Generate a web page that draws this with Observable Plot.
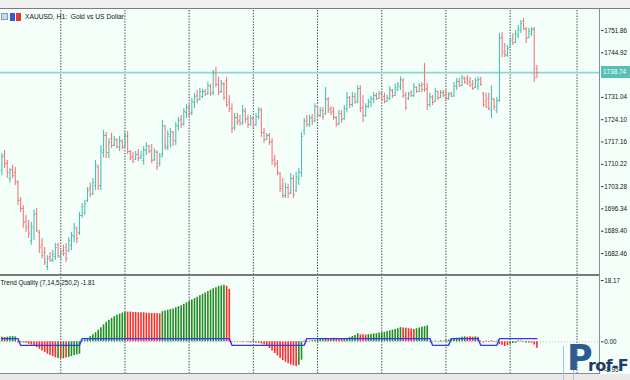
<!DOCTYPE html>
<html><head><meta charset="utf-8">
<script src="https://cdn.jsdelivr.net/npm/d3@7"></script>
<script src="https://cdn.jsdelivr.net/npm/@observablehq/plot@0.6"></script>
<style>
body{margin:0;background:#fff;}
#wrap{position:relative;width:630px;height:380px;overflow:hidden;background:#f5fffa;font-family:"Liberation Sans",Arial,sans-serif;color:#111;}
#wrap svg{position:absolute;left:0;}
.abs{position:absolute;}
</style></head><body><div id="wrap"></div>
<script>
const open = [1708.3,1713.0,1710.5,1705.8,1708.6,1707.7,1704.6,1699.0,1696.5,1692.4,
1690.9,1686.5,1690.3,1694.9,1689.0,1685.0,1682.8,1678.4,1681.5,1680.6,
1681.5,1685.3,1681.5,1683.4,1684.3,1683.4,1685.0,1687.8,1690.3,1689.0,
1694.3,1695.2,1699.0,1702.7,1701.1,1703.6,1709.2,1703.6,1713.9,1719.2,
1713.9,1718.2,1716.1,1717.9,1715.4,1717.3,1715.8,1718.9,1714.2,1712.6,
1711.7,1713.3,1712.3,1711.4,1714.5,1715.8,1714.5,1711.7,1713.9,1710.5,
1713.3,1722.1,1715.4,1718.9,1720.1,1717.6,1722.1,1724.2,1722.9,1726.3,
1728.2,1726.3,1729.5,1731.6,1730.4,1731.3,1732.9,1732.3,1734.4,1732.6,
1738.8,1735.1,1732.9,1735.1,1736.3,1729.5,1727.6,1721.7,1724.8,1723.9,
1723.2,1726.7,1724.5,1722.6,1724.5,1722.6,1725.1,1727.0,1720.1,1717.9,
1719.2,1717.3,1711.7,1710.5,1707.4,1703.4,1700.5,1703.0,1701.4,1705.8,
1702.1,1705.8,1707.7,1720.7,1723.9,1722.6,1724.8,1723.9,1728.2,1725.4,
1727.0,1726.0,1730.4,1727.6,1726.7,1724.8,1722.9,1726.0,1724.5,1727.6,
1731.0,1728.8,1731.3,1729.8,1733.8,1727.9,1725.4,1728.2,1729.5,1730.4,
1731.6,1730.7,1732.3,1731.3,1729.8,1730.7,1733.2,1731.6,1733.5,1734.4,
1736.3,1731.6,1730.7,1732.6,1731.6,1734.1,1732.9,1734.7,1735.1,1733.8,
1728.8,1731.0,1729.8,1732.9,1731.0,1732.6,1731.9,1730.7,1732.3,1731.6,
1734.4,1736.0,1734.7,1736.9,1736.9,1736.0,1735.1,1734.1,1734.4,1736.6,
1732.3,1730.1,1730.7,1727.0,1730.4,1727.0,1730.1,1749.7,1745.6,1744.1,
1746.6,1749.4,1748.1,1750.3,1751.9,1754.7,1752.2,1749.7,1750.9,1752.2,
1740.0];
const high = [1713.6,1714.5,1711.4,1708.9,1709.9,1709.2,1705.2,1699.9,1697.4,1694.3,
1692.7,1692.1,1695.9,1696.5,1689.6,1687.1,1684.3,1681.8,1682.8,1683.4,
1685.6,1685.6,1683.4,1685.0,1685.6,1687.4,1689.0,1691.8,1690.6,1695.2,
1698.0,1699.0,1703.0,1704.3,1705.8,1711.4,1709.9,1716.1,1720.7,1720.1,
1718.2,1719.8,1718.9,1718.2,1718.9,1717.9,1720.1,1720.4,1714.5,1713.9,
1714.2,1714.8,1714.2,1715.8,1717.0,1716.1,1716.4,1715.1,1714.5,1713.6,
1723.9,1722.3,1720.7,1721.4,1720.4,1723.2,1724.8,1725.4,1727.6,1728.8,
1729.1,1730.7,1732.3,1733.2,1733.8,1733.5,1733.5,1735.7,1735.1,1739.4,
1740.4,1737.3,1736.3,1735.7,1737.3,1731.6,1729.1,1726.0,1726.0,1725.4,
1728.5,1727.6,1725.4,1725.4,1725.1,1726.0,1727.9,1727.6,1721.4,1719.8,
1719.8,1718.2,1713.0,1711.4,1707.7,1705.8,1704.3,1704.0,1707.4,1706.7,
1707.7,1708.9,1720.1,1724.5,1725.4,1725.4,1725.7,1729.1,1728.5,1727.9,
1727.9,1734.1,1731.0,1728.2,1727.9,1725.1,1727.0,1727.0,1728.5,1732.6,
1731.3,1732.6,1732.3,1734.7,1734.7,1731.6,1729.1,1730.4,1731.3,1732.6,
1732.3,1732.9,1732.6,1732.3,1731.6,1734.4,1733.5,1735.1,1735.7,1737.5,
1736.9,1732.6,1732.6,1733.2,1735.4,1734.4,1735.4,1735.7,1741.6,1735.4,
1732.3,1731.6,1733.8,1732.9,1733.2,1733.2,1733.2,1732.6,1732.6,1735.7,
1736.9,1736.9,1737.9,1737.3,1737.9,1737.3,1736.3,1736.9,1737.3,1737.3,
1732.6,1732.3,1732.3,1734.7,1730.7,1731.0,1750.9,1751.2,1747.8,1747.2,
1749.4,1750.9,1751.9,1753.4,1755.0,1755.6,1752.8,1752.5,1752.8,1752.8,
1741.0];
const low = [1706.7,1708.9,1705.8,1704.3,1705.8,1703.6,1697.4,1695.2,1690.3,1689.0,
1687.1,1685.0,1686.5,1689.0,1682.5,1680.9,1678.7,1677.2,1679.7,1679.7,
1680.3,1680.9,1680.3,1681.5,1679.7,1682.8,1683.4,1685.9,1685.6,1688.1,
1693.4,1694.3,1698.3,1699.9,1700.5,1702.1,1702.1,1702.1,1712.3,1712.0,
1712.0,1715.1,1715.8,1715.1,1714.2,1714.8,1715.1,1713.3,1711.4,1710.5,
1711.4,1711.1,1711.7,1709.9,1713.0,1713.6,1710.5,1711.1,1708.3,1709.5,
1712.3,1714.5,1714.5,1715.4,1715.8,1716.1,1720.7,1721.4,1722.1,1724.5,
1724.8,1725.4,1727.6,1729.1,1730.1,1730.7,1731.3,1731.6,1731.3,1731.6,
1734.1,1731.6,1732.3,1730.1,1727.9,1726.3,1719.8,1720.7,1722.3,1722.1,
1722.3,1722.9,1721.4,1722.1,1721.4,1722.1,1724.2,1718.6,1716.7,1717.6,
1716.1,1709.9,1709.2,1706.7,1701.4,1699.6,1699.6,1699.6,1700.8,1699.6,
1701.4,1703.6,1706.1,1719.2,1721.7,1721.7,1722.3,1723.2,1724.5,1724.8,
1723.9,1725.4,1726.0,1725.4,1723.9,1721.7,1722.3,1722.9,1723.9,1726.3,
1727.6,1727.9,1728.8,1729.1,1726.3,1723.2,1724.8,1727.6,1727.9,1729.1,
1730.1,1730.4,1729.8,1729.1,1729.5,1730.1,1730.7,1731.3,1732.9,1733.2,
1730.7,1727.0,1730.1,1731.0,1731.0,1732.3,1732.6,1732.6,1732.6,1727.0,
1727.9,1728.5,1729.5,1730.1,1730.7,1731.0,1730.1,1730.1,1731.0,1731.0,
1733.2,1734.1,1734.4,1735.1,1734.7,1734.1,1733.2,1733.8,1733.2,1734.4,
1727.9,1727.6,1727.0,1724.5,1727.0,1726.0,1729.5,1743.5,1743.5,1743.5,
1746.3,1747.2,1747.8,1749.4,1750.9,1751.9,1747.8,1749.4,1750.0,1735.7,
1736.9];
const close = [1712.6,1710.5,1707.7,1708.3,1706.7,1704.6,1699.0,1696.5,1692.1,1690.3,
1688.7,1690.9,1694.6,1689.6,1684.3,1681.8,1679.7,1680.9,1680.3,1682.2,
1684.3,1681.8,1682.5,1682.5,1680.9,1686.5,1688.1,1690.9,1687.1,1694.3,
1697.1,1698.0,1702.1,1700.8,1704.6,1709.9,1703.6,1714.5,1719.2,1713.9,
1717.0,1716.1,1717.9,1715.8,1717.6,1715.4,1719.2,1714.2,1712.3,1711.1,
1713.3,1712.0,1713.0,1714.8,1716.1,1714.2,1711.4,1714.2,1709.5,1712.6,
1722.3,1715.8,1719.5,1720.4,1717.6,1722.3,1723.9,1722.6,1726.7,1727.9,
1726.0,1729.8,1731.3,1730.1,1732.9,1732.9,1731.9,1734.7,1732.3,1738.5,
1735.1,1732.6,1735.4,1731.0,1728.8,1727.6,1721.4,1724.8,1723.5,1722.9,
1727.0,1724.2,1722.6,1724.5,1722.3,1725.1,1727.3,1720.1,1717.9,1719.2,
1717.0,1711.4,1710.2,1707.7,1702.7,1700.5,1703.0,1701.1,1705.8,1700.8,
1706.4,1707.7,1718.9,1723.5,1722.6,1724.5,1723.5,1728.2,1725.4,1727.0,
1725.1,1730.7,1727.3,1726.3,1724.8,1722.6,1726.0,1724.2,1727.6,1731.0,
1728.8,1731.3,1729.8,1733.8,1727.6,1725.4,1728.2,1729.8,1730.7,1731.6,
1730.7,1732.3,1730.4,1729.8,1731.0,1733.5,1731.6,1734.1,1735.1,1736.6,
1731.6,1727.9,1731.9,1731.6,1734.4,1732.9,1734.7,1733.5,1733.5,1728.8,
1731.3,1729.5,1732.9,1731.0,1732.6,1731.6,1730.7,1731.9,1731.3,1734.7,
1736.0,1734.7,1737.3,1735.7,1735.4,1734.7,1733.8,1736.3,1736.6,1735.1,
1728.8,1728.2,1727.6,1730.7,1728.2,1730.1,1749.4,1745.0,1744.4,1746.3,
1748.8,1748.1,1750.9,1752.5,1754.0,1752.5,1749.4,1751.6,1752.2,1737.3,
1738.74];
// Trend Quality histogram, colour state (1 = green, 0 = red) and signal line
const tq = [1.3,1.2,1.3,1.4,1.5,1.4,-0.3,-0.2,-0.3,-0.4,
-0.7,-0.9,-1.2,-1.6,-2.1,-2.6,-3.0,-3.5,-3.9,-4.2,
-4.5,-4.7,-4.8,-4.8,-4.6,-4.4,-4.2,-3.9,-3.7,-3.5,
0.3,0.5,0.9,1.4,2.0,2.6,3.3,4.0,4.8,5.5,
6.1,6.6,7.1,7.5,7.8,8.1,8.3,8.4,8.4,8.3,
8.3,8.2,8.2,8.2,8.1,8.1,8.0,8.0,8.0,7.9,
8.5,8.7,8.9,9.1,9.3,9.6,9.9,10.2,10.6,11.0,
11.4,11.8,12.2,12.6,13.0,13.4,13.8,14.2,14.6,15.0,
15.3,15.6,15.8,16.0,15.7,14.8,-0.1,0.1,-0.1,0.1,
-0.2,0.1,-0.2,-0.3,0.3,-0.3,-0.4,-0.6,-0.9,-1.3,
-1.9,-2.6,-3.3,-4.0,-4.7,-5.3,-5.8,-6.2,-6.5,-6.8,
-7.0,-6.6,-5.2,0.2,-0.2,0.2,0.3,0.4,0.5,0.7,
0.9,1.0,0.9,0.9,1.0,0.9,0.8,0.7,0.8,1.0,
1.2,1.5,1.8,2.3,2.0,2.0,1.9,2.0,2.1,2.2,
2.3,2.5,2.6,2.7,2.9,3.1,3.3,3.5,3.7,4.0,
3.9,3.8,3.7,3.6,3.5,3.7,3.9,4.1,4.3,4.5,
-0.2,0.1,0.2,-0.1,0.3,0.2,0.4,0.5,0.7,0.9,
1.0,1.1,1.3,1.4,1.3,1.4,1.3,1.4,1.3,0.2,
-0.3,0.2,-0.2,0.3,-0.2,0.2,-0.8,-1.0,-1.3,-1.1,
-0.7,-0.5,-0.4,0.3,0.2,-0.2,-0.3,-0.3,-0.4,-0.9,
-1.81];
const tqUp = [1,0,1,1,1,1,0,0,1,0, 0,0,0,0,0,0,0,0,0,0, 0,1,0,1,0,1,1,1,1,1,
1,1,1,1,1,1,1,1,1,1, 1,1,1,1,1,1,1,0,0,0, 0,0,0,0,0,0,0,0,0,0,
1,1,1,1,1,1,1,1,1,1, 1,1,1,1,1,1,1,1,1,1, 1,1,1,1,0,0,0,0,0,0,
0,0,0,1,1,0,1,0,0,0, 0,0,0,0,0,0,0,0,0,0, 0,1,1,0,1,0,1,1,1,1,
1,1,0,0,1,0,0,0,1,1, 1,1,1,1,0,0,0,1,1,1, 1,1,1,1,1,1,1,1,1,1,
0,0,0,0,0,1,1,1,1,1, 0,0,1,0,1,1,1,1,1,1, 1,1,1,1,0,0,0,1,0,0,
0,1,0,1,0,1,0,0,0,0, 1,1,1,1,0,0,1,0,0,0, 0];
const signal = [0.9,0.9,0.9,0.9,0.9,0.9,0.9,-1,-1,-1,
-1,-1,-1,-1,-1,-1,-1,-1,-1,-1,
-1,-1,-1,-1,-1,-1,-1,-1,-1,-1,
0.9,0.9,0.9,0.9,0.9,0.9,0.9,0.9,0.9,0.9,
0.9,0.9,0.9,0.9,0.9,0.9,0.9,0.9,0.9,0.9,
0.9,0.9,0.9,0.9,0.9,0.9,0.9,0.9,0.9,0.9,
0.9,0.9,0.9,0.9,0.9,0.9,0.9,0.9,0.9,0.9,
0.9,0.9,0.9,0.9,0.9,0.9,0.9,0.9,0.9,0.9,
0.9,0.9,0.9,0.9,0.9,0.9,-1,-1,-1,-1,
-1,-1,-1,-1,-1,-1,-1,-1,-1,-1,
-1,-1,-1,-1,-1,-1,-1,-1,-1,-1,
-1,-1,-1,-1,0.9,0.9,0.9,0.9,0.9,0.9,
0.9,0.9,0.9,0.9,0.9,0.9,0.9,0.9,0.9,0.9,
0.9,0.9,0.9,0.9,0.9,0.9,0.9,0.9,0.9,0.9,
0.9,0.9,0.9,0.9,0.9,0.9,0.9,0.9,0.9,0.9,
0.9,0.9,0.9,0.9,0.9,0.9,0.9,0.9,0.9,0.9,
0.9,-1,-1,-1,-1,-1,-1,-1,0.9,0.9,
0.9,0.9,0.9,0.9,0.9,0.9,0.9,0.9,0.9,-1,
-1,-1,-1,-1,-1,-1,0.9,0.9,0.9,0.9,
0.9,0.9,0.9,0.9,0.9,0.9,0.9,0.9,0.9,0.9,
0.9];
const gridBars = [22,46,70,94,118,142,166,190,215];
const priceTicks = [1751.86,1744.92,1731.04,1724.10,1717.16,1710.22,1703.28,1696.34,1689.40,1682.46];
const hiddenTick = [1737.98];
const tqTop = 18.17, tqBottom = -8.95;
const symbolTitle = "XAUUSD, H1:  Gold vs US Dollar";
const tqTitle = "Trend Quality (7,14,5,250,2) -1.81";

const UP = "#4cc0b2", DN = "#f07b7b", GREEN = "#1e8e1e", RED = "#ff2b2b", BLUE = "#3535ff";
const n = close.length;
const bars = close.map((c, i) => ({i, o: open[i], h: high[i], l: low[i], c}));
const ind = tq.map((v, i) => ({i, v, up: tqUp[i], s: signal[i]}));
const xScale = {domain: [-0.5234, 223.776], axis: null, label: null};
const font = {background: "transparent", fontFamily: "Liberation Sans, Arial, sans-serif", fontSize: "6.3px", color: "#111", overflow: "visible"};
const barColor = d => d.c >= d.o ? UP : DN;
const grid = Plot.ruleX(gridBars, {stroke: "#454545", strokeDasharray: "1.4,1.4", strokeWidth: 1});
const axOpts = {anchor: "right", tickSize: 2.5, tickPadding: 1.2, tickFormat: d => d.toFixed(2), label: null, stroke: "#333"};

const main = Plot.plot({
  width: 630, height: 276, marginTop: 10, marginBottom: 1, marginLeft: 0, marginRight: 30,
  style: font,
  x: xScale,
  y: {domain: [1675.62, 1758.09], axis: null, label: null},
  marks: [
    grid,
    Plot.ruleY([close[n - 1]], {stroke: "#8fd6cf", strokeWidth: 1.7}),
    Plot.ruleX(bars, {x: "i", y1: "l", y2: "h", stroke: barColor, strokeWidth: 1.1}),
    Plot.link(bars, {x1: d => d.i - 0.5, x2: "i", y1: "o", y2: "o", stroke: barColor, strokeWidth: 1}),
    Plot.link(bars, {x1: "i", x2: d => d.i + 0.5, y1: "c", y2: "c", stroke: barColor, strokeWidth: 1}),
    Plot.axisY(priceTicks, axOpts),
    Plot.axisY(hiddenTick, {...axOpts, tickFormat: () => ""})
  ]
});
main.style.top = "0px";

const lower = Plot.plot({
  width: 630, height: 110, marginTop: 7, marginBottom: 7, marginLeft: 0, marginRight: 30,
  style: font,
  x: xScale,
  y: {domain: [tqBottom, tqTop], axis: null, label: null},
  marks: [
    grid,
    Plot.ruleY([0], {stroke: "#b8b8b8", strokeDasharray: "1,2", strokeWidth: 1}),
    Plot.ruleX(ind, {x: "i", y1: 0, y2: "v", stroke: d => d.up ? GREEN : RED, strokeWidth: 1.6}),
    Plot.line(ind, {x: "i", y: "s", stroke: BLUE, strokeWidth: 1.4}),
    Plot.axisY([0], axOpts),
    Plot.axisY([tqTop], {...axOpts, dy: 3}),
    Plot.axisY([tqBottom], {...axOpts, dy: -4})
  ]
});
lower.style.top = "270px";

const wrap = document.getElementById("wrap");
wrap.appendChild(main);
wrap.appendChild(lower);

function box(css, html) {
  const d = document.createElement("div");
  d.className = "abs";
  d.style.cssText = css;
  if (html != null) d.innerHTML = html;
  wrap.appendChild(d);
  return d;
}
// frame pieces
box("left:0;top:0;width:630px;height:8px;background:#f0f0f0;");
box("left:0;top:7.5px;width:630px;height:1.6px;background:#7c7c7c;");
box("left:0;top:274px;width:600px;height:2.4px;background:#787878;");
box("left:0;top:372.5px;width:600px;height:1.8px;background:#8a8a8a;");
box("left:0;top:374.3px;width:630px;height:6px;background:#e9e9e9;");
box("left:599px;top:9px;width:1.4px;height:365px;background:#8c8c8c;");

// current price label
const py = main.scale("y").apply(close[n - 1]);
box(`left:601px;top:${py - 6}px;width:29px;height:11.5px;background:#55c0b4;color:#fff;font-size:6.4px;line-height:11.5px;padding-left:2px;box-sizing:border-box;`, close[n - 1].toFixed(2));

// titles
box("left:1px;top:13px;width:7px;height:7px;background:#c9d9ef;border:1px solid #7c9bc9;box-sizing:border-box;");
box("left:10px;top:13px;width:5px;height:8px;background:#3a56d8;");
box("left:15.5px;top:13px;width:5px;height:8px;background:#e23a3a;");
box("left:25px;top:12.5px;font-size:6.7px;white-space:pre;color:#111;", symbolTitle);
box("left:0.5px;top:279px;font-size:6.3px;white-space:pre;color:#111;", tqTitle);

// watermark logo
box("left:563px;top:346px;width:1px;height:34px;background:#9fc4e6;");
box("left:573px;top:346px;width:1px;height:34px;background:#9fc4e6;");
box("left:567px;top:341px;font-size:35px;font-weight:bold;color:#2a5c92;font-family:'DejaVu Sans',sans-serif;line-height:1;", "P");
box("left:588px;top:358px;font-size:16px;font-weight:bold;letter-spacing:-0.6px;color:#1f3d6d;font-family:'DejaVu Sans',sans-serif;line-height:1;white-space:pre;", "rof-F");
</script>
</body></html>
